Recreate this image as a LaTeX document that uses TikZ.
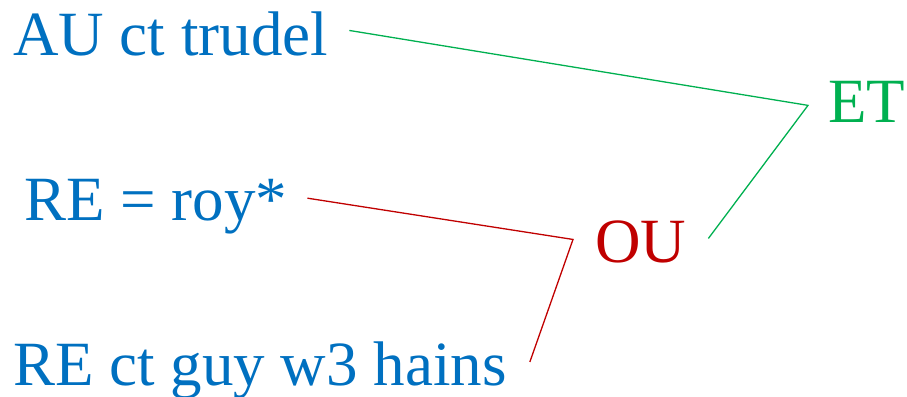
\documentclass[tikz,border=0pt]{standalone}
\usepackage{fontspec}
\setmainfont{Liberation Serif}
\definecolor{lblue}{HTML}{0070C0}
\definecolor{lgreen}{HTML}{00B050}
\definecolor{lred}{HTML}{C00000}
\tikzset{
  term/.style={anchor=base west,inner sep=0pt,font=\fontsize{63}{70}\selectfont},
  link/.style={line width=1.3pt}
}
\begin{document}
\begin{tikzpicture}[x=1pt,y=1pt]
  \useasboundingbox (0,0) rectangle (907,396);
  \node[term,lblue] (au) at (13,340) {AU ct trudel};
  \node[term,lblue] (roy) at (24,175) {RE = roy*};
  \node[term,lblue] (guy) at (13,10) {RE ct guy w3 hains};
  \node[term,lgreen] (et) at (828,273) {ET};
  \node[term,lred] (ou) at (595,133) {OU};
  \coordinate (etj) at ([xshift=-20pt,yshift=-3pt]et.west);
  \coordinate (ouj) at ([xshift=-22pt,yshift=3pt]ou.west);
  \draw[link,lgreen] ([xshift=21pt,yshift=4pt]au.east)--(etj)--([xshift=22pt,yshift=4pt]ou.east);
  \draw[link,lred] ([xshift=20pt,yshift=9pt]roy.east)--(ouj)--([xshift=23pt,yshift=9pt]guy.east);
\end{tikzpicture}
\end{document}
